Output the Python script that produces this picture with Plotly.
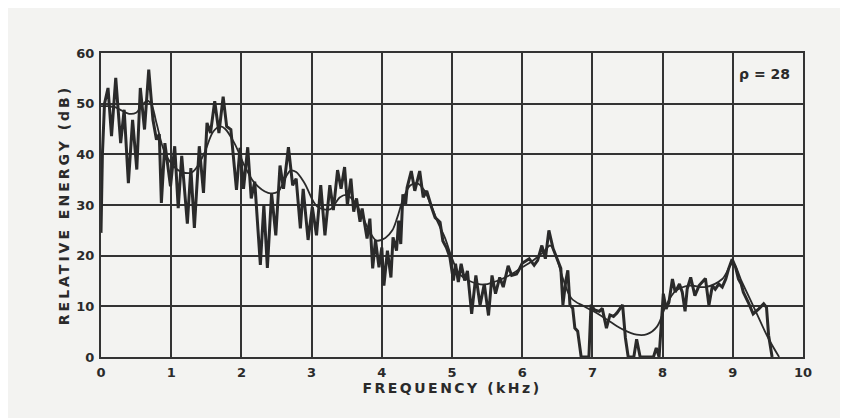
import plotly.graph_objects as go

# Detailed (fine-structure) spectrum
freq_detail = [0.00, 0.02, 0.05, 0.10, 0.15, 0.21, 0.28, 0.33, 0.39, 0.45, 0.51, 0.56, 0.62, 0.68, 0.74, 0.79,
               0.83, 0.86, 0.91, 0.99, 1.05, 1.10, 1.15, 1.23, 1.28, 1.33, 1.40, 1.46, 1.51, 1.56, 1.62, 1.68,
               1.74, 1.79, 1.85, 1.88, 1.93, 1.98, 2.03, 2.09, 2.14, 2.19, 2.27, 2.32, 2.37, 2.43, 2.49, 2.55,
               2.60, 2.67, 2.73, 2.78, 2.84, 2.88, 2.95, 3.01, 3.07, 3.13, 3.19, 3.26, 3.31, 3.37, 3.42, 3.47,
               3.51, 3.56, 3.60, 3.64, 3.69, 3.72, 3.79, 3.83, 3.87, 3.91, 3.96, 4.00, 4.03, 4.08, 4.13, 4.16,
               4.21, 4.24, 4.27, 4.30, 4.34, 4.36, 4.42, 4.47, 4.54, 4.59, 4.64, 4.71, 4.76, 4.83, 4.87, 4.92,
               4.97, 5.02, 5.05, 5.09, 5.13, 5.18, 5.22, 5.28, 5.34, 5.40, 5.46, 5.52, 5.57, 5.62, 5.68, 5.73,
               5.80, 5.85, 5.92, 5.95, 6.00, 6.10, 6.17, 6.22, 6.28, 6.33, 6.38, 6.44, 6.50, 6.55, 6.58, 6.62,
               6.65, 6.68, 6.72, 6.75, 6.79, 6.84, 6.95, 6.98, 7.03, 7.10, 7.14, 7.20, 7.25, 7.30, 7.35, 7.43,
               7.47, 7.51, 7.59, 7.63, 7.68, 7.87, 7.91, 7.95, 7.98, 8.01, 8.05, 8.09, 8.14, 8.18, 8.24, 8.28,
               8.32, 8.35, 8.40, 8.46, 8.52, 8.61, 8.66, 8.71, 8.75, 8.80, 8.85, 8.90, 8.94, 8.99, 9.04, 9.08,
               9.12, 9.15, 9.22, 9.29, 9.37, 9.44, 9.48, 9.51, 9.56]
level_detail = [24.5, 40.0, 50.0, 53.1, 43.6, 55.1, 42.2, 48.8, 34.3, 46.8, 37.0, 53.1, 44.9, 56.7, 46.8, 42.9,
                44.0, 30.4, 42.2, 33.7, 41.6, 29.4, 39.7, 26.3, 37.3, 25.5, 41.6, 32.4, 46.2, 44.2, 50.5, 44.2,
                51.4, 45.5, 44.9, 40.9, 33.0, 41.3, 33.2, 41.4, 31.3, 34.6, 18.2, 30.0, 17.6, 32.3, 24.0, 37.8,
                33.2, 41.4, 33.9, 35.2, 25.4, 33.2, 23.1, 29.6, 24.0, 33.9, 24.0, 33.9, 29.0, 36.9, 33.2, 37.5,
                30.0, 35.2, 28.7, 31.3, 26.7, 29.3, 23.4, 27.3, 17.5, 23.1, 17.7, 21.6, 14.1, 21.0, 15.7, 23.6,
                21.0, 26.9, 22.3, 32.1, 30.2, 33.4, 36.7, 32.8, 36.7, 31.5, 32.8, 29.5, 27.5, 26.6, 22.9, 21.6,
                19.7, 15.1, 18.4, 14.8, 18.4, 15.1, 17.0, 8.5, 16.1, 10.2, 14.4, 8.2, 16.1, 12.5, 15.7, 13.8,
                18.0, 16.1, 16.4, 17.1, 18.5, 19.4, 18.1, 19.1, 22.0, 19.4, 25.0, 21.4, 19.4, 17.5, 10.3, 14.9,
                17.1, 10.3, 9.6, 5.7, 5.1, 0.0, 0.0, 10.3, 9.3, 9.0, 9.6, 5.7, 8.3, 8.0, 8.7, 10.3,
                3.8, 0.0, 0.0, 3.5, 0.0, 0.0, 1.8, 0.0, 6.2, 12.5, 9.5, 10.8, 15.4, 12.8, 14.4, 12.8,
                9.0, 13.4, 15.7, 12.1, 14.1, 15.5, 10.2, 14.1, 13.4, 14.4, 13.8, 15.4, 17.4, 19.3, 17.7, 15.4,
                14.4, 12.8, 10.8, 8.5, 9.5, 10.5, 9.8, 4.3, 0.0]

# Smoothed envelope
freq_smooth = [0.00, 0.10, 0.20, 0.30, 0.40, 0.50, 0.58, 0.66, 0.72, 0.79, 0.91, 1.06, 1.15, 1.29, 1.39,
               1.48, 1.60, 1.70, 1.77, 1.90, 2.05, 2.19, 2.38, 2.52, 2.62, 2.70, 2.78, 2.90, 3.08, 3.27,
               3.40, 3.50, 3.60, 3.70, 3.80, 3.92, 4.05, 4.15, 4.22, 4.30, 4.40, 4.50, 4.60, 4.70, 4.80,
               4.90, 5.00, 5.10, 5.25, 5.45, 5.60, 5.80, 6.00, 6.15, 6.30, 6.40, 6.48, 6.58, 6.70, 6.88,
               7.06, 7.25, 7.44, 7.63, 7.78, 7.92, 8.05, 8.19, 8.38, 8.61, 8.85, 9.00, 9.13, 9.32, 9.51, 9.66]
level_smooth = [49.5, 49.5, 49.3, 48.6, 48.0, 48.2, 49.6, 50.6, 49.8, 46.2, 40.3, 37.3, 36.5, 36.4, 38.0,
                40.5, 44.5, 45.5, 45.0, 42.2, 37.6, 34.3, 32.4, 32.6, 35.2, 36.8, 36.5, 34.3, 29.7, 29.2,
                31.5, 32.0, 30.8, 28.5, 25.5, 23.0, 23.5, 25.0, 27.5, 31.0, 33.8, 34.3, 33.0, 30.0, 26.5,
                23.5, 19.5, 16.5, 15.0, 14.3, 14.8, 16.0, 17.7, 19.0, 20.7, 22.0, 20.0, 15.5, 11.6, 10.0,
                8.7, 7.0, 5.4, 4.4, 4.5, 6.0, 10.2, 13.1, 14.1, 13.8, 15.4, 18.5, 14.8, 9.2, 3.6, 0.0]

x_ticks = [0, 1, 2, 3, 4, 5, 6, 7, 8, 9, 10]
y_ticks = [0, 10, 20, 30, 40, 50, 60]

ink = "#2a2a2a"
paper = "#f3f3f1"
font_family = "DejaVu Sans"

fig = go.Figure()
fig.add_trace(go.Scatter(x=freq_detail, y=level_detail, mode="lines",
                         line=dict(color=ink, width=3), showlegend=False, cliponaxis=False))
fig.add_trace(go.Scatter(x=freq_smooth, y=level_smooth, mode="lines", line_shape="spline",
                         line=dict(color=ink, width=1.8), showlegend=False, cliponaxis=False))

fig.add_annotation(x=0.985, y=0.93, xref="paper", yref="paper", xanchor="right", yanchor="middle",
                   text="ρ = 28", showarrow=False,
                   font=dict(family=font_family, size=14, color=ink, weight="bold"))

fig.update_layout(
    width=848, height=418,
    margin=dict(l=93, r=53, t=45, b=69),
    paper_bgcolor=paper, plot_bgcolor=paper,
    font=dict(family=font_family, color=ink),
)
fig.update_xaxes(range=[0, 10], tickvals=x_ticks, ticktext=[str(v) for v in x_ticks],
                 showgrid=True, gridcolor="#333333", gridwidth=2,
                 showline=True, linecolor="#333333", linewidth=2, mirror=True,
                 zeroline=False, ticks="", ticklabelstandoff=2,
                 tickfont=dict(family=font_family, size=13, color=ink, weight="bold"),
                 title=dict(text='<span style="letter-spacing:2.5px">FREQUENCY (kHz)</span>',
                            font=dict(family=font_family, size=14, color=ink, weight="bold"), standoff=2))
fig.update_yaxes(range=[0, 60], tickvals=y_ticks, ticktext=[str(v) for v in y_ticks],
                 showgrid=True, gridcolor="#333333", gridwidth=2,
                 showline=True, linecolor="#333333", linewidth=2, mirror=True,
                 zeroline=False, ticks="", ticklabelstandoff=2,
                 tickfont=dict(family=font_family, size=13, color=ink, weight="bold"),
                 title=dict(text='<span style="letter-spacing:3px">RELATIVE ENERGY (dB)</span>',
                            font=dict(family=font_family, size=14, color=ink, weight="bold"), standoff=3))

fig.write_html("out.html")
